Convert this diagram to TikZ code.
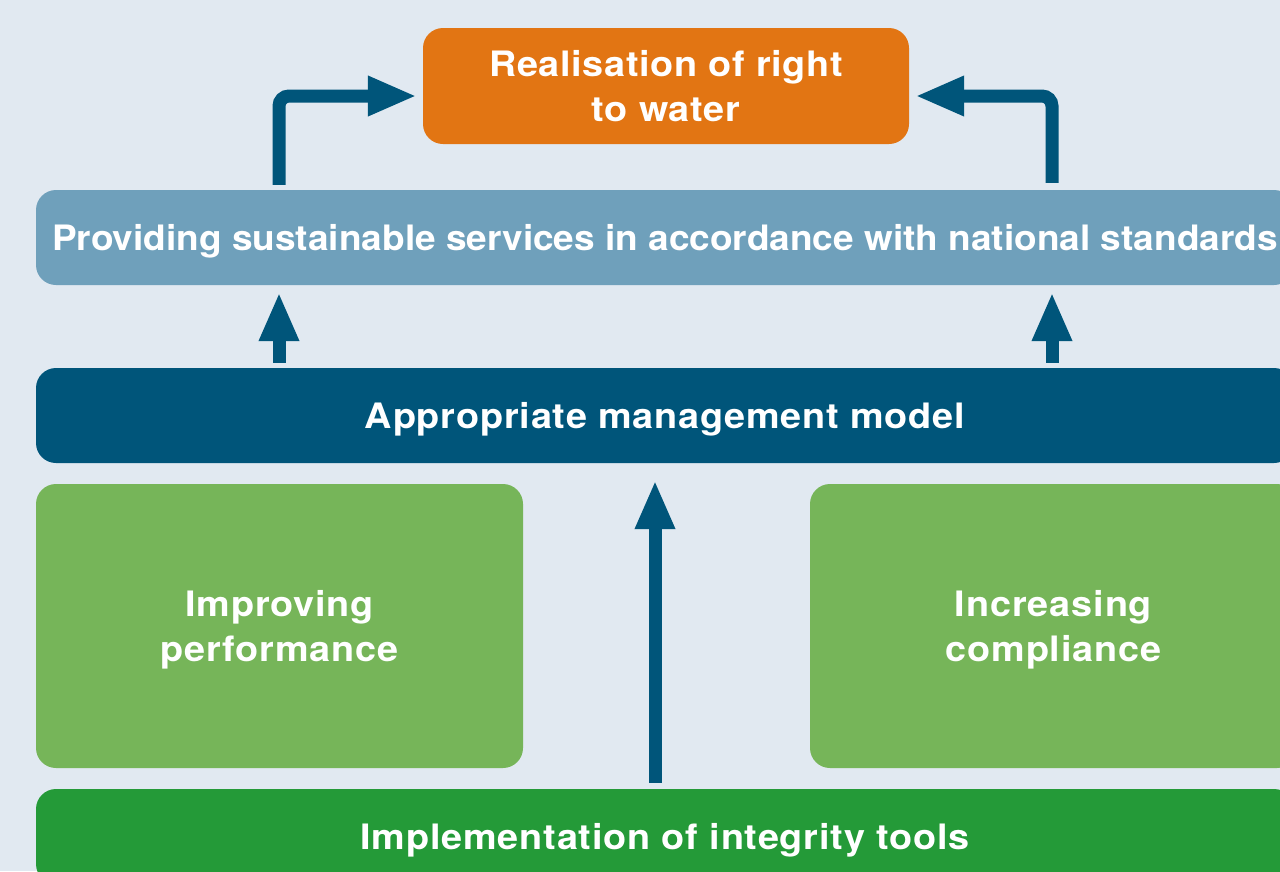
\documentclass[tikz,border=0pt]{standalone}
\usepackage{fontspec}
\setmainfont{TeX Gyre Heros}
\usetikzlibrary{arrows.meta}
\definecolor{bgc}{HTML}{E1E9F1}
\definecolor{goalc}{HTML}{E27513}
\definecolor{svcc}{HTML}{6FA0BB}
\definecolor{mgmtc}{HTML}{00557A}
\definecolor{leafc}{HTML}{76B559}
\definecolor{basec}{HTML}{249A38}
\definecolor{arrowc}{HTML}{00557A}
% bold label face: horizontal stretch and tracking
\newcommand\boxfont[2]{\fontsize{35}{45}\selectfont\bfseries\addfontfeatures{FakeStretch=#1,LetterSpace=#2}}
\begin{document}
\begin{tikzpicture}[x=1pt,y=-1pt,
  box/.style={rounded corners=20pt, inner sep=0pt, text=white, align=center},
  one/.style={text height=25pt, text depth=0pt},
  two/.style={text height=70pt, text depth=0pt},
  flow/.style={draw=arrowc, line width=13pt, -{Triangle[width=37pt,length=49pt]}},
]
\useasboundingbox (0,0) rectangle (1280,871);
\fill[bgc] (0,0) rectangle (1280,871);
\begin{scope}
\clip (0,0) rectangle (1280,871);
% goal at the top
\node[box, two, fill=goalc, minimum width=486pt, minimum height=116pt, font=\boxfont{1.08}{1.9}]
  (goal) at (666,86) {Realisation of right\\to water};
% horizontal bands
\node[box, one, fill=svcc, minimum width=1258pt, minimum height=95pt, font=\boxfont{1.057}{0}]
  (svc) at (665,237.5) {Providing sustainable services in accordance with national standards};
\node[box, one, fill=mgmtc, minimum width=1258pt, minimum height=95pt, font=\boxfont{1.08}{2.3}]
  (mgmt) at (665,415.5) {Appropriate management model};
% the two effects
\node[box, two, fill=leafc, minimum width=487pt, minimum height=284pt, font=\boxfont{1.08}{2.5}]
  (perf) at (279.5,626) {Improving\\performance};
\node[box, two, fill=leafc, minimum width=487pt, minimum height=284pt, font=\boxfont{1.08}{2.5}]
  (comp) at (1053.5,626) {Increasing\\compliance};
% base band
\node[box, one, fill=basec, minimum width=1258pt, minimum height=95pt, font=\boxfont{1.08}{2.3}]
  (impl) at (665,836.5) {Implementation of integrity tools};
\end{scope}
% connectors
\draw[flow, rounded corners=10pt, shorten <=5pt, shorten >=6pt]
  ([xshift=-386pt]svc.north) |- ([yshift=-10pt]goal.west);
\draw[flow, rounded corners=10pt, shorten <=7pt, shorten >=6pt]
  ([xshift=387pt]svc.north) |- ([yshift=-10pt]goal.east);
\draw[flow, shorten <=5pt, shorten >=7pt]
  ([xshift=-386pt]mgmt.north) -- ([xshift=-386pt]svc.south);
\draw[flow, shorten <=5pt, shorten >=7pt]
  ([xshift=387pt]mgmt.north) -- ([xshift=387pt]svc.south);
\draw[flow, shorten <=6pt, shorten >=17pt]
  ([xshift=-10pt]impl.north) -- ([xshift=-10pt]mgmt.south);
\end{tikzpicture}
\end{document}
